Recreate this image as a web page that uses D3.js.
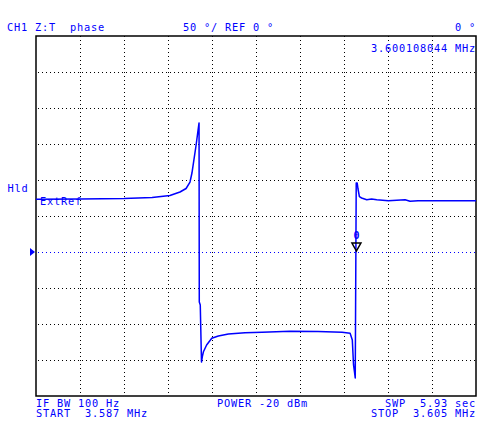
<!DOCTYPE html>
<html>
<head>
<meta charset="utf-8">
<script src="https://cdn.jsdelivr.net/npm/d3@7"></script>
<style>
  html, body { margin: 0; padding: 0; background: #fff; }
  svg { display: block; }
  text { font-family: "DejaVu Sans Mono", "Liberation Mono", monospace; font-size: 10.3px; letter-spacing: 0.8px; fill: #0000ff; white-space: pre; }
</style>
</head>
<body>
<div id="chart"></div>
<script>
// sweep settings
var startMHz = 3.587, stopMHz = 3.605;
var refDeg = 0, degPerDiv = 50, refDiv = 6; // ref line 6 divs from top
var markerMHz = 3.600108044, markerDeg = 0;

// trace points (frequency in MHz, phase in degrees)
var freqMHz = [
  3.58700, 3.58880, 3.59060, 3.59175, 3.59248, 3.59289, 3.59314, 3.59330,
  3.59338, 3.59346, 3.59355, 3.59363, 3.59367, 3.59368, 3.59372, 3.59377,
  3.59381, 3.59385, 3.59398, 3.59419, 3.59446, 3.59487, 3.59555, 3.59625,
  3.59739, 3.59854, 3.59952, 3.59985, 3.59994, 3.59999, 3.60003, 3.60006,
  3.60010, 3.60014, 3.60017, 3.60023, 3.60032, 3.60053, 3.60073, 3.60094,
  3.60141, 3.60210, 3.60230, 3.60263, 3.60353, 3.60500
];
var phaseDeg = [
  73.2, 73.6, 74.3, 75.7, 78.5, 83.3, 88.2, 97.2,
  109.7, 127.8, 148.6, 169.4, 179.2, -69.4, -73.6, -152.8,
  -144.4, -138.5, -129.2, -119.9, -116.7, -113.9, -112.1, -111.5,
  -110.1, -110.4, -111.5, -112.9, -122.2, -156.9, -166.7, -175.0,
  95.8, 95.8, 88.2, 76.8, 75.0, 72.6, 73.6, 72.6,
  71.3, 72.6, 70.4, 71.3, 71.3, 71.3
];

var headerLeft = "CH1 Z:T  phase";
var headerScale = "50 °/ REF 0 °";
var headerRight = "0 °";
var markerReadout = "3.600108044 MHz";
var footerLeft = ["IF BW 100 Hz", "START  3.587 MHz"];
var footerMid = "POWER -20 dBm";
var footerRight = ["SWP  5.93 sec", "STOP  3.605 MHz"];

var width = 490, height = 427;
var L = 36, R = 476, T = 36, B = 396;

var svg = d3.select("#chart").append("svg")
  .attr("width", width)
  .attr("height", height);

var x = d3.scaleLinear().domain([startMHz, stopMHz]).range([L, R]);
var y = d3.scaleLinear()
  .domain([refDeg - (10 - refDiv) * degPerDiv, refDeg + refDiv * degPerDiv])
  .range([B, T]);

// 10 x 10 dotted graticule
var xDivs = d3.range(1, 10).map(i => startMHz + i * (stopMHz - startMHz) / 10);
var yDivs = d3.range(1, 10).map(i => y.domain()[0] + i * degPerDiv);

svg.append("g").selectAll("line").data(xDivs).join("line")
  .attr("x1", d => Math.round(x(d)) + 0.5).attr("x2", d => Math.round(x(d)) + 0.5)
  .attr("y1", T).attr("y2", B)
  .attr("stroke", "#000").attr("stroke-width", 1)
  .attr("stroke-dasharray", "1,3");

svg.append("g").selectAll("line").data(yDivs).join("line")
  .attr("x1", L + 2).attr("x2", R)
  .attr("y1", d => Math.round(y(d)) + 0.5).attr("y2", d => Math.round(y(d)) + 0.5)
  .attr("stroke", d => d === refDeg ? "#0000ff" : "#000")
  .attr("stroke-width", 1)
  .attr("stroke-dasharray", "1,3");

// frame
svg.append("rect")
  .attr("x", L).attr("y", T).attr("width", R - L).attr("height", B - T)
  .attr("fill", "none").attr("stroke", "#000").attr("stroke-width", 1.5);

// reference position arrow
var ry = y(refDeg);
svg.append("path")
  .attr("d", `M${L - 6},${ry - 4}L${L - 1},${ry}L${L - 6},${ry + 4}Z`)
  .attr("fill", "#0000ff");

// trace
var pts = freqMHz.map((f, i) => [f, phaseDeg[i]]);
var line = d3.line().x(d => x(d[0])).y(d => y(d[1]));
svg.append("path")
  .datum(pts)
  .attr("d", line)
  .attr("fill", "none")
  .attr("stroke", "#0000ff")
  .attr("stroke-width", 1.5)
  .attr("stroke-linejoin", "round");

// marker 0
var mx = x(markerMHz), my = y(markerDeg);
svg.append("path")
  .attr("d", `M${mx - 4.5},${my - 9}L${mx + 4.5},${my - 9}L${mx},${my - 1}Z`)
  .attr("fill", "none").attr("stroke", "#000").attr("stroke-width", 1.5);
svg.append("text").attr("x", mx).attr("y", my - 13)
  .attr("text-anchor", "middle").style("font-size", "10px").style("letter-spacing", "0px")
  .style("font-weight", "bold")
  .text("0");

// annotations
svg.append("text").attr("x", 7).attr("y", 31).text(headerLeft);
svg.append("text").attr("x", 183).attr("y", 31).text(headerScale);
svg.append("text").attr("x", 476).attr("y", 31).attr("text-anchor", "end").text(headerRight);
svg.append("text").attr("x", 476).attr("y", 52).attr("text-anchor", "end").text(markerReadout);
svg.append("text").attr("x", 7.5).attr("y", 192).text("Hld");
svg.append("text").attr("x", 40).attr("y", 205).text("ExtRef");

svg.append("text").attr("x", 36).attr("y", 406.5).text(footerLeft[0]);
svg.append("text").attr("x", 36).attr("y", 416.5).text(footerLeft[1]);
svg.append("text").attr("x", 217).attr("y", 406.5).text(footerMid);
svg.append("text").attr("x", 476).attr("y", 406.5).attr("text-anchor", "end").text(footerRight[0]);
svg.append("text").attr("x", 476).attr("y", 416.5).attr("text-anchor", "end").text(footerRight[1]);
</script>
</body>
</html>
